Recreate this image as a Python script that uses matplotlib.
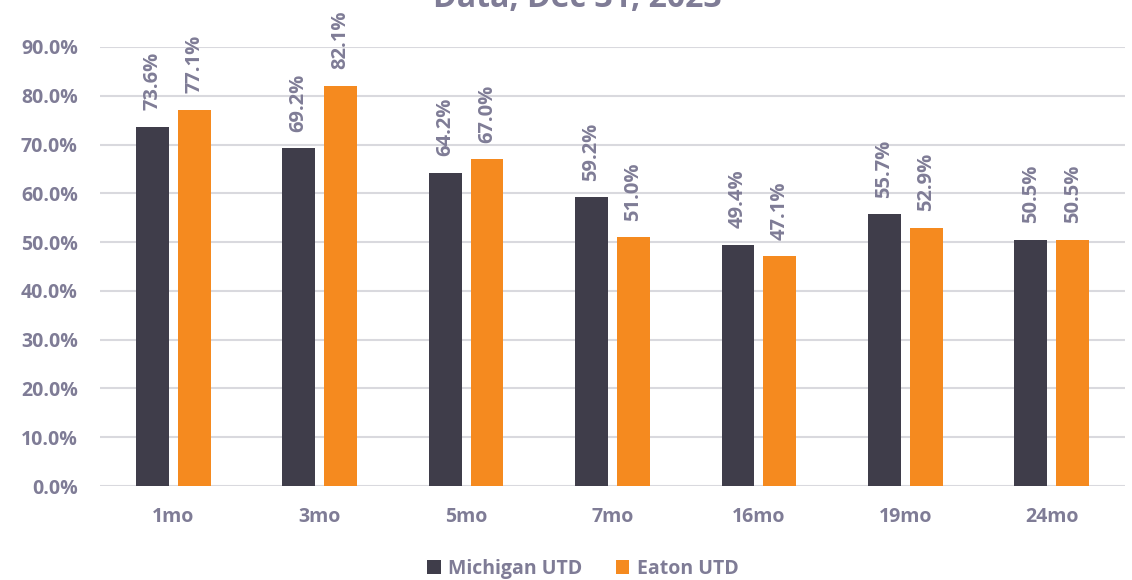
import numpy as np
import matplotlib

matplotlib.use('Agg')
import matplotlib.pyplot as plt

categories = ['1mo', '3mo', '5mo', '7mo', '16mo', '19mo', '24mo']
michigan = [73.6, 69.2, 64.2, 59.2, 49.4, 55.7, 50.5]
eaton = [77.1, 82.1, 67.0, 51.0, 47.1, 52.9, 50.5]
series_names = ['Michigan UTD', 'Eaton UTD']
title = 'Data, Dec 31, 2023'

TEXT = '#7f7c96'
DARK = '#3f3d4a'
ORANGE = '#f58a1f'
GRID = '#d9d9de'

plt.rcParams['font.family'] = ['Open Sans', 'DejaVu Sans']
plt.rcParams['font.weight'] = 'bold'

fig = plt.figure(figsize=(11.32, 5.8), dpi=100)
ax = fig.add_axes([100 / 1132, 1 - 486 / 580, 1025 / 1132, (486 - 47) / 580])

x = np.arange(len(categories))
w = 0.225
off = 0.143
b1 = ax.bar(x - off, np.array(michigan) / 100, w, color=DARK, label=series_names[0], zorder=3)
b2 = ax.bar(x + off, np.array(eaton) / 100, w, color=ORANGE, label=series_names[1], zorder=3)

# rotated value labels above each bar
for bars, vals in ((b1, michigan), (b2, eaton)):
    for bar, v in zip(bars, vals):
        ax.annotate(f'{v:.1f}%', (bar.get_x() + bar.get_width() / 2, bar.get_height()),
                    xytext=(0, 12), textcoords='offset points', rotation=90,
                    ha='center', va='bottom', color=TEXT, fontsize=14.5,
                    fontweight='bold', annotation_clip=False)

ax.set_xlim(-0.5, len(categories) - 0.5)
ax.set_ylim(0, 0.9)
ax.set_yticks(np.arange(0, 0.91, 0.1))
ax.set_yticklabels([f'{t * 100:.1f}%' for t in np.arange(0, 0.91, 0.1)])
ax.set_xticks(x)
ax.set_xticklabels(categories)
ax.tick_params(axis='both', length=0, colors=TEXT, labelsize=14)
ax.tick_params(axis='x', pad=15)
ax.tick_params(axis='y', pad=16)
for lbl in ax.get_xticklabels() + ax.get_yticklabels():
    lbl.set_fontweight('bold')

ax.grid(axis='y', color=GRID, linewidth=1.5, zorder=0)
for s in ax.spines.values():
    s.set_visible(False)

fig.text(577 / 1132, 1 - 7 / 580, title, ha='center', va='baseline',
         color=TEXT, fontsize=23, fontweight='bold')

fig.legend(handles=[b1, b2], labels=series_names, loc='center',
           bbox_to_anchor=(583 / 1132, 1 - 569 / 580), ncol=2, frameon=False,
           fontsize=14, labelcolor=TEXT, handlelength=0.7, handleheight=0.7,
           handletextpad=0.4, columnspacing=1.7)

fig.savefig('out.png', dpi=100)
